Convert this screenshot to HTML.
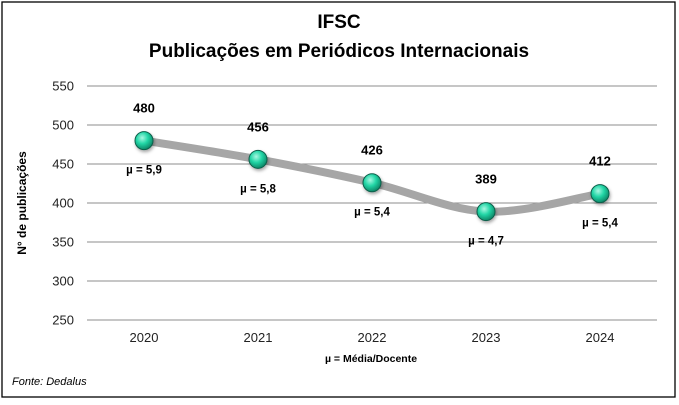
<!DOCTYPE html>
<html><head><meta charset="utf-8">
<style>
body{margin:0;background:#fff;}
#wrap{position:relative;width:679px;height:400px;}
svg text{font-family:"Liberation Sans",Arial,sans-serif;}
</style></head>
<body>
<div id="wrap">
<svg id="chart" width="679" height="400">
<defs>
<radialGradient id="mg" cx="40%" cy="35%" r="65%">
<stop offset="0" stop-color="#a8f8e2"/>
<stop offset="0.5" stop-color="#22d6a6"/>
<stop offset="1" stop-color="#0d8868"/>
</radialGradient>
<filter id="sh" x="-50%" y="-50%" width="200%" height="200%"><feDropShadow dx="1" dy="2" stdDeviation="1.5" flood-opacity="0.35"/></filter>
</defs>
<rect x="2" y="2" width="673" height="395" fill="#fff" stroke="#000" stroke-width="1.3"/>
<text x="339" y="28" text-anchor="middle" font-size="19" font-weight="bold" fill="#000">IFSC</text>
<text x="339" y="57" text-anchor="middle" font-size="19" font-weight="bold" fill="#000">Publicações em Periódicos Internacionais</text>
<text transform="translate(26,203) rotate(-90)" text-anchor="middle" font-size="12" font-weight="bold">N° de publicações</text>
<text x="371" y="362" text-anchor="middle" font-size="10.5" font-weight="bold">µ = Média/Docente</text>
<text x="12" y="385" font-size="11" font-style="italic">Fonte: Dedalus</text>
<g id="grid"></g><g id="line"></g><g id="marks"></g>
</svg>
</div>
<script>
const categories=["2020","2021","2022","2023","2024"];
const values=[480,456,426,389,412];
const averages=["5,9","5,8","5,4","4,7","5,4"];
const yTicks=[250,300,350,400,450,500,550];
const NS="http://www.w3.org/2000/svg";
const x0=87,x1=657,yTop=86,yBot=320,yMin=250,yMax=550;
function xs(i){return x0+(x1-x0)/categories.length*(i+0.5);}
function ys(v){return yBot-(v-yMin)/(yMax-yMin)*(yBot-yTop);}
function mk(tag,attrs,parent){const e=document.createElementNS(NS,tag);for(const k in attrs)e.setAttribute(k,attrs[k]);parent.appendChild(e);return e;}
const grid=document.getElementById('grid');
yTicks.forEach(t=>{
 const l=mk('line',{x1:x0,x2:x1,y1:ys(t),y2:ys(t),stroke:'#8c8c8c','stroke-width':1},grid);
 
 
 const tx=mk('text',{x:74,y:ys(t)+4.5,'text-anchor':'end','font-size':13,fill:'#222'},grid);
 tx.textContent=t;
 
 
});
categories.forEach((c,i)=>{
 const tx=mk('text',{x:xs(i),y:342,'text-anchor':'middle','font-size':13,fill:'#222'},grid);
 tx.textContent=c;
 
 
});
const pts=values.map((v,i)=>[xs(i),ys(v)]);
let d='M'+pts[0][0]+','+pts[0][1];
for(let i=0;i<pts.length-1;i++){
 const p0=pts[i-1]||pts[i],p1=pts[i],p2=pts[i+1],p3=pts[i+2]||p2;
 const t=6;
 d+=' C'+(p1[0]+(p2[0]-p0[0])/t)+','+(p1[1]+(p2[1]-p0[1])/t)+' '+(p2[0]-(p3[0]-p1[0])/t)+','+(p2[1]-(p3[1]-p1[1])/t)+' '+p2[0]+','+p2[1];
}
const path=mk('path',{d:d,fill:'none',stroke:'#a6a6a6','stroke-width':8,'stroke-linecap':'round'},document.getElementById('line'));


const marks=document.getElementById('marks');
values.forEach((v,i)=>{
 const c=mk('circle',{cx:xs(i),cy:ys(v),r:9,fill:'url(#mg)',stroke:'#0a5e4a','stroke-width':1,filter:'url(#sh)'},marks);
 
 
 const lb=mk('text',{x:xs(i),y:ys(v)-28,'text-anchor':'middle','font-size':13,'font-weight':'bold'},marks);
 lb.textContent=v;
 
 
 const av=mk('text',{x:xs(i),y:ys(v)+33,'text-anchor':'middle','font-size':11.5,'font-weight':'bold'},marks);
 av.textContent='µ = '+averages[i];
 
 
});
</script>
</body></html>
